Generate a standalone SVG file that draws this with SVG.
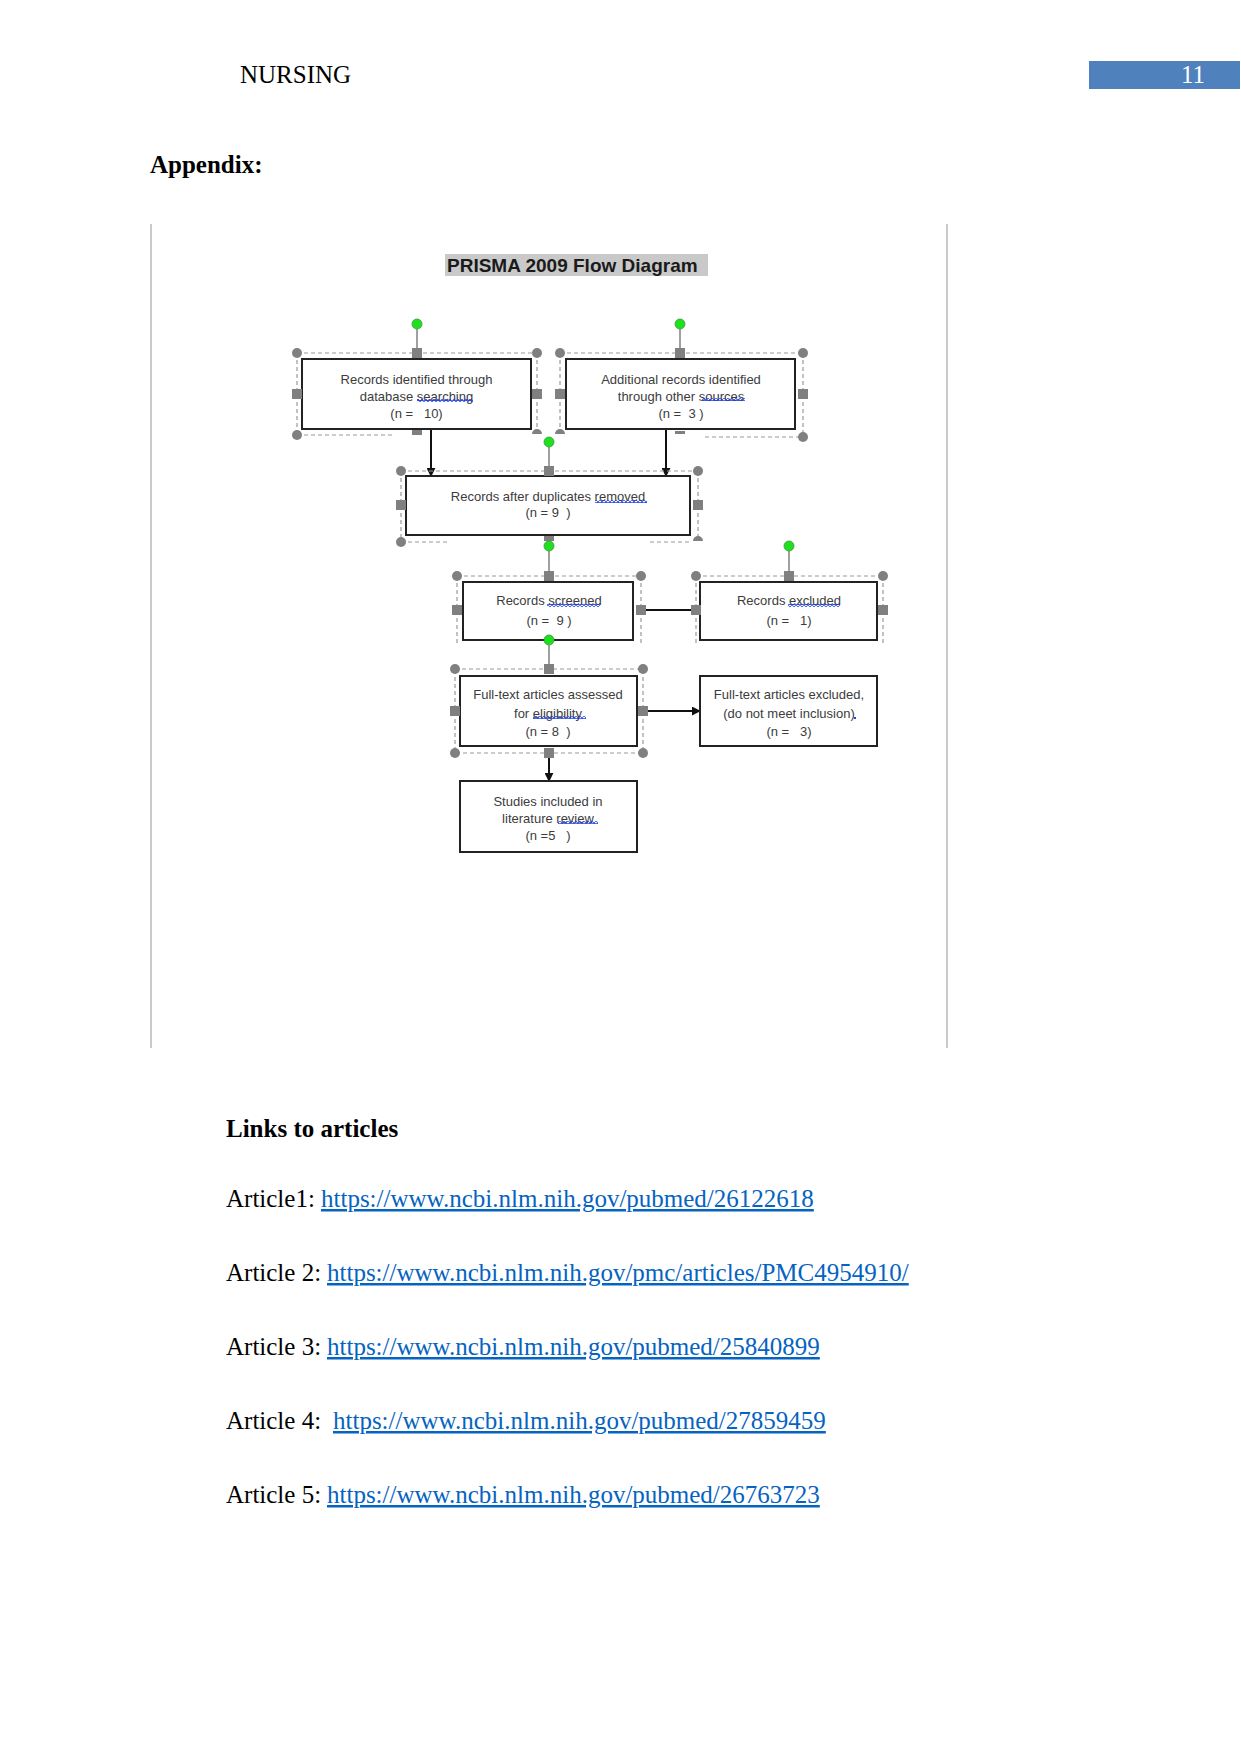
<svg xmlns="http://www.w3.org/2000/svg" width="1241" height="1754" viewBox="0 0 1241 1754">
<style>
.serif{font-family:"Liberation Serif","Times New Roman",serif;font-size:25px;fill:#000}
.bold{font-weight:bold}
.link{fill:#0563c1;text-decoration:underline}
.box{fill:#fff;stroke:#222;stroke-width:2}
.bt{font-family:"Liberation Sans",Arial,sans-serif;font-size:13px;fill:#3c3c3c;text-anchor:middle}
.sel{fill:none;stroke:#9a9a9a;stroke-width:1.2;stroke-dasharray:4 3}
.hc{fill:#808080}
.hs{fill:#808080}
.rot{fill:#1ee01e;stroke:#3a9a3a;stroke-width:0.8}
.rl{stroke:#808080;stroke-width:1.5}
.conn{stroke:#111;stroke-width:2;fill:none}
.wv{fill:url(#wave)}
</style>
<defs>
<marker id="ah" viewBox="0 0 10 10" refX="9" refY="5" markerWidth="4.5" markerHeight="4.5" orient="auto">
<path d="M0,0 L10,5 L0,10 Z" fill="#111"/>
</marker>
<pattern id="wave" width="4" height="3" patternUnits="userSpaceOnUse">
<path d="M0,2.5 L2,0.5 L4,2.5" fill="none" stroke="#2040e0" stroke-width="1.2"/>
</pattern>
</defs>

<!-- page header -->
<g id="header">
<text class="serif" x="240" y="83">NURSING</text>
<rect x="1089" y="61" width="151" height="28" fill="#4f81bd"/>
<text class="serif" x="1181" y="83" style="fill:#fff">11</text>
<text class="serif bold" x="150" y="173">Appendix:</text>
</g>

<!-- frame -->
<g id="frame">
<line x1="151" y1="224" x2="151" y2="1048" stroke="#cacaca" stroke-width="2"/>
<line x1="947" y1="224" x2="947" y2="1048" stroke="#cacaca" stroke-width="2"/>
</g>

<g id="title">
<rect x="445" y="254" width="263" height="22" fill="#c9c9c9"/>
<text x="447" y="271.5" style="font-family:'Liberation Sans',Arial,sans-serif;font-size:19px;font-weight:bold;fill:#1a1a1a">PRISMA 2009 Flow Diagram</text>
</g>

<!-- connectors -->
<g id="connectors">
<line class="conn" x1="431" y1="429" x2="431" y2="476" marker-end="url(#ah)"/>
<line class="conn" x1="666" y1="429" x2="666" y2="476" marker-end="url(#ah)"/>
<line class="conn" x1="646" y1="610" x2="691" y2="610"/>
<line class="conn" x1="648" y1="711" x2="700" y2="711" marker-end="url(#ah)"/>
<line class="conn" x1="549" y1="758" x2="549" y2="781" marker-end="url(#ah)"/>
</g>

<!-- node 1 -->
<g id="node-db">
<path class="sel" d="M297,353 H537 M297,353 V435 M537,353 V433 M297,435 H393"/>
<rect class="box" x="302" y="359" width="229" height="70"/>
<text class="bt" x="416.5" y="384">Records identified through</text>
<text class="bt" x="416.5" y="401">database searching</text>
<text class="bt" x="416.5" y="418" xml:space="preserve">(n =   10)</text>
<rect class="wv" x="417" y="399" width="56" height="3"/>
<line class="rl" x1="417" y1="329" x2="417" y2="348"/>
<circle class="rot" cx="417" cy="324" r="5"/>
<circle class="hc" cx="297" cy="353" r="5"/>
<circle class="hc" cx="537" cy="353" r="5"/>
<circle class="hc" cx="297" cy="435" r="5"/>
<path class="hc" d="M532,434 A5,5 0 0 1 542,434 Z"/>
<rect class="hs" x="412" y="348" width="10" height="10"/>
<rect class="hs" x="292" y="389" width="10" height="10"/>
<rect class="hs" x="532" y="389" width="10" height="10"/>
<rect class="hs" x="412" y="430" width="10" height="5"/>
</g>

<!-- node 2 -->
<g id="node-other">
<path class="sel" d="M560,353 H803 M560,353 V433 M803,353 V437 M705,437 H803"/>
<rect class="box" x="566" y="359" width="229" height="70"/>
<text class="bt" x="681" y="384">Additional records identified</text>
<text class="bt" x="681" y="401">through other sources</text>
<text class="bt" x="681" y="418" xml:space="preserve">(n =  3 )</text>
<rect class="wv" x="702" y="398" width="43" height="3"/>
<line class="rl" x1="680" y1="329" x2="680" y2="348"/>
<circle class="rot" cx="680" cy="324" r="5"/>
<circle class="hc" cx="560" cy="353" r="5"/>
<circle class="hc" cx="803" cy="353" r="5"/>
<circle class="hc" cx="803" cy="437" r="5"/>
<path class="hc" d="M555,434 A5,5 0 0 1 565,434 Z"/>
<rect class="hs" x="675" y="348" width="10" height="10"/>
<rect class="hs" x="555" y="389" width="10" height="10"/>
<rect class="hs" x="798" y="389" width="10" height="10"/>
<rect class="hs" x="675" y="431" width="10" height="3"/>
</g>

<!-- node 3 -->
<g id="node-dup">
<path class="sel" d="M401,471 H698 M401,471 V542 M698,471 V540 M401,542 H450 M650,542 H690"/>
<rect class="box" x="406" y="476" width="284" height="59"/>
<text class="bt" x="548" y="500.5">Records after duplicates removed</text>
<text class="bt" x="548" y="517" xml:space="preserve">(n = 9  )</text>
<rect class="wv" x="595" y="500" width="52" height="3"/>
<line class="rl" x1="549" y1="447" x2="549" y2="466"/>
<circle class="rot" cx="549" cy="442" r="5"/>
<circle class="hc" cx="401" cy="471" r="5"/>
<circle class="hc" cx="698" cy="471" r="5"/>
<circle class="hc" cx="401" cy="542" r="5"/>
<path class="hc" d="M693,541 A5,5 0 0 1 703,541 Z"/>
<rect class="hs" x="544" y="466" width="10" height="10"/>
<rect class="hs" x="396" y="500" width="10" height="10"/>
<rect class="hs" x="693" y="500" width="10" height="10"/>
<rect class="hs" x="544" y="536" width="10" height="5"/>
</g>

<!-- node 4 -->
<g id="node-screened">
<path class="sel" d="M457,576 H641 M457,576 V646 M641,576 V646"/>
<rect class="box" x="463" y="582" width="170" height="58"/>
<text class="bt" x="549" y="605">Records screened</text>
<text class="bt" x="549" y="624.5" xml:space="preserve">(n =  9 )</text>
<rect class="wv" x="547" y="604" width="53" height="3"/>
<line class="rl" x1="549" y1="551" x2="549" y2="571"/>
<circle class="rot" cx="549" cy="546" r="5"/>
<circle class="hc" cx="457" cy="576" r="5"/>
<circle class="hc" cx="641" cy="576" r="5"/>
<rect class="hs" x="544" y="571" width="10" height="10"/>
<rect class="hs" x="452" y="605" width="10" height="10"/>
<rect class="hs" x="636" y="605" width="10" height="10"/>
</g>

<!-- node 5 -->
<g id="node-excluded">
<path class="sel" d="M696,576 H883 M696,576 V646 M883,576 V646"/>
<rect class="box" x="700" y="582" width="177" height="58"/>
<text class="bt" x="789" y="605">Records excluded</text>
<text class="bt" x="789" y="624.5" xml:space="preserve">(n =   1)</text>
<rect class="wv" x="788" y="604" width="52" height="3"/>
<line class="rl" x1="789" y1="551" x2="789" y2="571"/>
<circle class="rot" cx="789" cy="546" r="5"/>
<circle class="hc" cx="696" cy="576" r="5"/>
<circle class="hc" cx="883" cy="576" r="5"/>
<rect class="hs" x="784" y="571" width="10" height="10"/>
<rect class="hs" x="691" y="605" width="10" height="10"/>
<rect class="hs" x="878" y="605" width="10" height="10"/>
</g>

<!-- node 6 -->
<g id="node-fulltext">
<rect class="sel" x="455" y="669" width="188" height="84"/>
<rect class="box" x="460" y="676" width="177" height="70"/>
<text class="bt" x="548" y="699">Full-text articles assessed</text>
<text class="bt" x="548" y="718">for eligibility</text>
<text class="bt" x="548" y="736" xml:space="preserve">(n = 8  )</text>
<rect class="wv" x="533" y="716" width="53" height="3"/>
<line class="rl" x1="549" y1="645" x2="549" y2="664"/>
<circle class="rot" cx="549" cy="640" r="5"/>
<circle class="hc" cx="455" cy="669" r="5"/>
<circle class="hc" cx="643" cy="669" r="5"/>
<circle class="hc" cx="455" cy="753" r="5"/>
<circle class="hc" cx="643" cy="753" r="5"/>
<rect class="hs" x="544" y="664" width="10" height="10"/>
<rect class="hs" x="544" y="748" width="10" height="10"/>
<rect class="hs" x="450" y="706" width="10" height="10"/>
<rect class="hs" x="638" y="706" width="10" height="10"/>
</g>

<!-- node 7 -->
<g id="node-ftexcluded">
<rect class="box" x="700" y="676" width="177" height="70"/>
<text class="bt" x="789" y="699">Full-text articles excluded,</text>
<text class="bt" x="789" y="718">(do not meet inclusion)</text>
<text class="bt" x="789" y="736" xml:space="preserve">(n =   3)</text>
<rect x="854" y="717" width="2" height="2" fill="#2040e0"/>
</g>

<!-- node 8 -->
<g id="node-included">
<rect class="box" x="460" y="781" width="177" height="71"/>
<text class="bt" x="548" y="805.5">Studies included in</text>
<text class="bt" x="548" y="823">literature review</text>
<text class="bt" x="548" y="840" xml:space="preserve">(n =5   )</text>
<rect class="wv" x="558" y="821" width="40" height="3"/>
</g>

<!-- links -->
<g id="links">
<text class="serif bold" x="226" y="1137">Links to articles</text>
<text class="serif" x="226" y="1207">Article1: </text>
<text class="serif link" x="321" y="1207">https://www.ncbi.nlm.nih.gov/pubmed/26122618</text>
<text class="serif" x="226" y="1281">Article 2: </text>
<text class="serif link" x="327" y="1281">https://www.ncbi.nlm.nih.gov/pmc/articles/PMC4954910/</text>
<text class="serif" x="226" y="1355">Article 3: </text>
<text class="serif link" x="327" y="1355">https://www.ncbi.nlm.nih.gov/pubmed/25840899</text>
<text class="serif" x="226" y="1429">Article 4: </text>
<text class="serif link" x="333" y="1429">https://www.ncbi.nlm.nih.gov/pubmed/27859459</text>
<text class="serif" x="226" y="1503">Article 5: </text>
<text class="serif link" x="327" y="1503">https://www.ncbi.nlm.nih.gov/pubmed/26763723</text>
</g>
</svg>
